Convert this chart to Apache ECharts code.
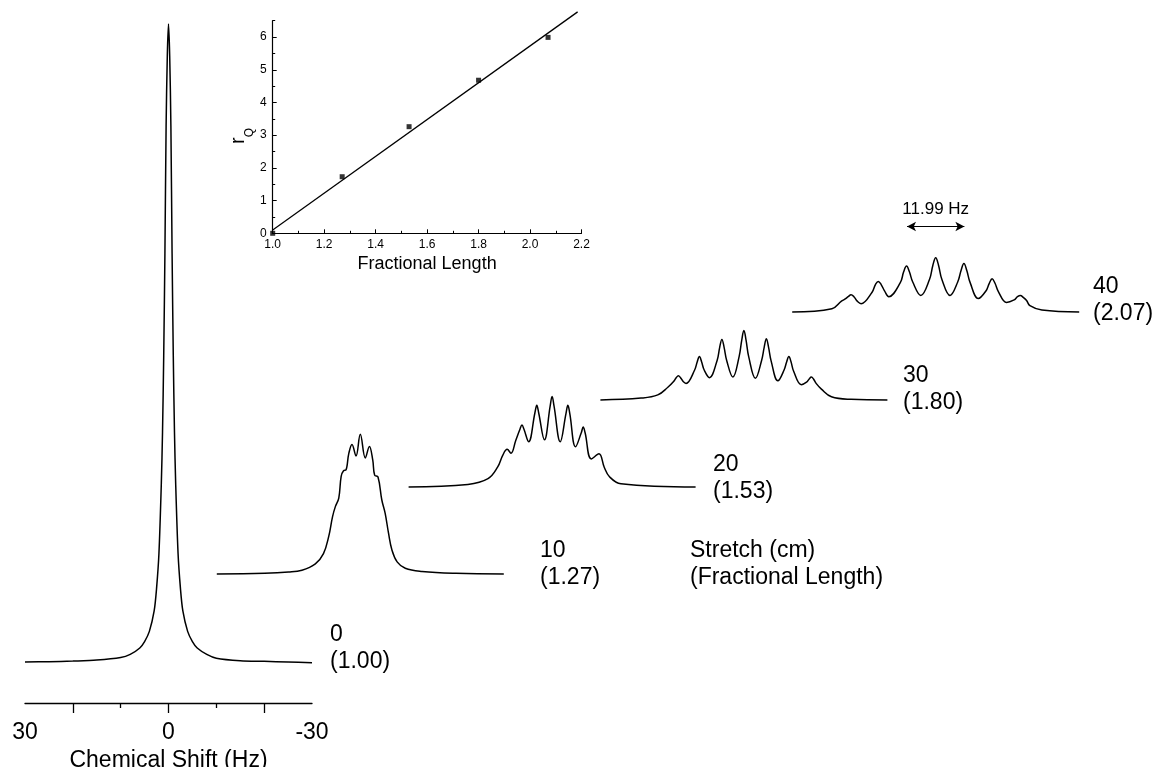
<!DOCTYPE html>
<html lang="en" style="height: 100%">
<head>
  <meta charset="utf-8">
</head>
<body style="height: 100%; margin: 0">
  <div id="container" style="height: 100%"></div>

  <script type="text/javascript" src="https://cdn.jsdelivr.net/npm/echarts@6/dist/echarts.min.js"></script>

  <script type="text/javascript">
    // spectra, each point = [chemical shift (Hz), intensity (% of the 0 cm peak)]
    var spec0 = [[30, 0], [25, 0.05], [20, 0.15], [15, 0.3], [10, 0.7], [8, 1.2], [6, 2.2], [5, 3.2], [4, 4.8],
      [3, 8], [2.5, 11.5], [2, 17], [1.5, 28], [1.25, 36], [1, 48], [0.75, 64], [0.5, 84], [0.25, 95], [0, 100],
      [-0.25, 95], [-0.5, 84], [-0.75, 64], [-1, 48], [-1.25, 36], [-1.5, 28], [-2, 17], [-2.5, 11.5], [-3, 8],
      [-4, 4.8], [-5, 3.2], [-6, 2.2], [-8, 1.2], [-10, 0.6], [-15, 0.2], [-20, 0.1], [-25, 0], [-30, -0.1]];
    var spec10 = [[30, 0], [20, 0.1], [15, 0.3], [12.2, 0.6], [9.4, 1.6], [7.7, 3.2], [6.6, 5.9], [5.8, 9.0],
      [5.2, 10.6], [4.5, 11.9], [4.0, 15.3], [3.5, 16.2], [3.0, 16.3], [2.4, 18.9], [1.74, 20.3], [0.9, 18.5],
      [0, 21.9], [-1.05, 18.2], [-1.9, 20.0], [-2.6, 17.9], [-3.0, 15.5], [-3.7, 15.2], [-4.5, 11.6], [-5.2, 9.5],
      [-5.9, 6.4], [-6.6, 3.8], [-7.7, 1.9], [-9.4, 0.9], [-12.9, 0.4], [-20, 0.1], [-30, 0]];
    var spec20 = [[30, 0], [17.6, 0.4], [13.4, 1.3], [11.4, 3.1], [10.3, 5.0], [9.4, 5.9], [8.6, 5.3], [7.6, 7.3],
      [6.7, 9.1], [6.3, 9.7], [5.9, 9.1], [4.9, 7.1], [3.6, 11.6], [3.2, 12.8], [2.8, 11.6], [1.6, 7.4],
      [0.4, 12.7], [0, 14.2], [-0.4, 12.7], [-1.7, 7.1], [-2.9, 11.5], [-3.3, 12.8], [-3.7, 11.5], [-4.9, 6.3],
      [-6.1, 8.5], [-6.5, 9.4], [-6.9, 8.5], [-8.2, 4.4], [-9.8, 5.2], [-10.9, 3.1], [-12.0, 1.6], [-14.4, 0.5],
      [-30, 0]];
    var spec30 = [[30, 0], [21.5, 0.3], [18.0, 0.8], [15.9, 2.0], [14.7, 2.9], [14.15, 3.5], [13.7, 3.8],
      [13.25, 3.5], [12.7, 2.9], [12.1, 2.6], [10.3, 4.7], [9.75, 6.0], [9.3, 6.8], [8.85, 6.0], [8.3, 4.7],
      [7.2, 3.5], [5.6, 6.2], [5.05, 8.3], [4.6, 9.5], [4.15, 8.3], [3.6, 6.2], [2.3, 3.6], [1.0, 6.8],
      [0.45, 9.4], [0, 10.9], [-0.45, 9.4], [-1.0, 6.8], [-2.4, 3.4], [-3.7, 6.2], [-4.25, 8.3], [-4.7, 9.6],
      [-5.15, 8.3], [-5.7, 6.1], [-7.1, 3.0], [-8.4, 4.7], [-8.95, 6.0], [-9.4, 6.8], [-9.85, 6.0], [-10.4, 4.5],
      [-12.0, 2.4], [-13.1, 2.8], [-13.65, 3.3], [-14.1, 3.6], [-14.55, 3.3], [-15.1, 2.6], [-16.2, 1.7],
      [-18.3, 0.5], [-22.4, 0.1], [-30, 0]];
    var spec40 = [[30, 0], [21.7, 0.5], [19.7, 1.7], [19.0, 2.0], [18.3, 2.4], [17.7, 2.7], [17.1, 2.4],
      [16.4, 1.7], [15.6, 1.3], [13.3, 3.1], [12.6, 4.3], [12.0, 4.8], [11.4, 4.3], [10.7, 3.3], [9.8, 2.4],
      [7.4, 4.6], [6.7, 6.3], [6.1, 7.2], [5.5, 6.3], [4.8, 4.7], [3.1, 2.6], [1.3, 5.1], [0.6, 7.3], [0, 8.5],
      [-0.6, 7.3], [-1.3, 5.1], [-3.0, 2.6], [-4.6, 4.7], [-5.3, 6.5], [-5.9, 7.6], [-6.5, 6.5], [-7.2, 4.6],
      [-8.9, 2.1], [-10.5, 3.3], [-11.2, 4.5], [-11.8, 5.2], [-12.4, 4.5], [-13.1, 3.2], [-14.8, 1.5],
      [-16.4, 1.9], [-17.1, 2.4], [-17.7, 2.6], [-18.3, 2.3], [-19.0, 1.8], [-19.7, 1.0], [-22.2, 0.3], [-30, 0]];

    var stretchCm = ['0', '10', '20', '30', '40'];
    var fracLength = ['1.00', '1.27', '1.53', '1.80', '2.07'];
    var shiftLabels = [30, 0, -30];
    var shiftMajor = [20, 0, -20];
    var shiftMinor = [10, -10];
    var splitting = 11.99;   // Hz, marked on the 40 cm spectrum
    var arrowLevel = 13.4;   // intensity where the arrow sits

    // inset: quadrupolar splitting vs fractional length
    var insetX = [1.00, 1.27, 1.53, 1.80, 2.07];
    var insetY = [0, 1.73, 3.26, 4.68, 5.99];
    var fitX = [0.89, 2.185];
    var fitY = [-0.52, 6.77];
    var rqTicks = [0, 1, 2, 3, 4, 5, 6];
    var rqMinor = [0.5, 1.5, 2.5, 3.5, 4.5, 5.5, 6.5];

    var FONT = '"Liberation Sans", Arial, Helvetica, sans-serif';
    var PX = 6.38;   // pixels per intensity unit
    var spectra = [spec0, spec10, spec20, spec30, spec40];
    var baselines = [662, 574, 487, 400, 312];
    var gridH = [640, 200, 200, 200, 200];
    var labelPos = [[330, 621], [540, 537], [713, 451], [903, 362], [1093, 273]];

    var dom = document.getElementById('container');
    var myChart = echarts.init(dom, null, { renderer: 'canvas' });

    var grids = [], xAxes = [], yAxes = [], series = [], graphics = [];

    spectra.forEach(function (s, i) {
      grids.push({ left: 25 + 191.8 * i, top: baselines[i] - gridH[i], width: 287, height: gridH[i], outerBoundsMode: 'none' });
      xAxes.push({ type: 'value', gridIndex: i, min: -30, max: 30, inverse: true, show: false });
      yAxes.push({ type: 'value', gridIndex: i, min: 0, max: gridH[i] / PX, show: false });
      series.push({
        type: 'line', xAxisIndex: i, yAxisIndex: i, data: s,
        showSymbol: false, smooth: i === 0 ? 0.3 : 0.4, clip: false, silent: true,
        lineStyle: { color: '#000', width: 1.5 }
      });
      graphics.push({
        type: 'text', left: labelPos[i][0], top: labelPos[i][1],
        style: { text: stretchCm[i] + '\n(' + fracLength[i] + ')', fill: '#000', fontSize: 23, fontFamily: FONT, lineHeight: 27 }
      });
    });

    // visible chemical shift axis under the 0 cm spectrum
    Object.assign(xAxes[0], {
      show: true, position: 'bottom', offset: 41,
      axisLine: { show: true, onZero: false, lineStyle: { color: '#000', width: 1.3 } },
      axisTick: { show: true, customValues: shiftMajor, length: 10, lineStyle: { color: '#000', width: 1.3 } },
      axisLabel: { customValues: shiftLabels, margin: 18, fontSize: 23, color: '#000', fontFamily: FONT },
      splitLine: { show: false },
      name: 'Chemical Shift (Hz)', nameLocation: 'middle', nameGap: 40,
      nameTextStyle: { fontSize: 23, color: '#000', fontFamily: FONT }
    });
    xAxes.push({
      type: 'value', gridIndex: 0, position: 'bottom', offset: 41, min: -30, max: 30, inverse: true,
      axisLine: { show: false, onZero: false }, axisLabel: { show: false }, splitLine: { show: false },
      axisTick: { show: true, customValues: shiftMinor, length: 5, lineStyle: { color: '#000', width: 1.3 } }
    });

    series[4].markLine = {
      silent: true, symbol: ['arrow', 'arrow'], symbolSize: [7, 9],
      lineStyle: { color: '#000', width: 1, type: 'solid' },
      label: { show: true, position: 'insideMiddleTop', distance: 9, formatter: splitting + ' Hz',
        color: '#000', fontSize: 17, fontFamily: FONT },
      data: [[{ coord: [splitting / 2, arrowLevel] }, { coord: [-splitting / 2, arrowLevel] }]]
    };

    // inset
    grids.push({ left: 272.7, top: 20.7, width: 308.8, height: 212.6, outerBoundsMode: 'none' });
    xAxes.push({
      type: 'value', gridIndex: 5, position: 'bottom', min: 1.0, max: 2.2, interval: 0.2,
      axisLine: { show: true, onZero: false, lineStyle: { color: '#000', width: 1.2 } },
      axisTick: { show: true, inside: true, length: 4, lineStyle: { color: '#000' } },
      minorTick: { show: true, splitNumber: 2, length: 2.5, lineStyle: { color: '#000' } },
      axisLabel: { margin: 5, fontSize: 12, color: '#000', fontFamily: FONT,
        formatter: function (v) { return v.toFixed(1); } },
      splitLine: { show: false },
      name: 'Fractional Length', nameLocation: 'middle', nameGap: 22,
      nameTextStyle: { fontSize: 18, color: '#000', fontFamily: FONT }
    });
    yAxes.push({
      type: 'value', gridIndex: 5, position: 'left', min: 0, max: 6.5,
      axisLine: { show: true, onZero: false, lineStyle: { color: '#000', width: 1.2 } },
      axisTick: { show: true, inside: true, length: 4, customValues: rqTicks, lineStyle: { color: '#000' } },
      axisLabel: { customValues: rqTicks, margin: 6, fontSize: 12, color: '#000', fontFamily: FONT },
      splitLine: { show: false },
      name: '{r|r}{q|Q}', nameLocation: 'middle', nameGap: 13, nameRotate: 90,
      nameTextStyle: {
        color: '#000', fontFamily: FONT, padding: [0, 18, 0, 0],
        rich: {
          r: { fontSize: 20, fontFamily: FONT, color: '#000' },
          q: { fontSize: 12, fontFamily: FONT, color: '#000', verticalAlign: 'bottom', padding: [0, 0, -8, 0] }
        }
      }
    });
    yAxes.push({
      type: 'value', gridIndex: 5, position: 'left', min: 0, max: 6.5,
      axisLine: { show: false, onZero: false }, axisLabel: { show: false }, splitLine: { show: false },
      axisTick: { show: true, inside: true, length: 2.5, customValues: rqMinor, lineStyle: { color: '#000' } }
    });

    series.push({
      type: 'line', xAxisIndex: 6, yAxisIndex: 5, clip: false, showSymbol: false, silent: true,
      data: fitX.map(function (x, i) { return [x, fitY[i]]; }),
      lineStyle: { color: '#000', width: 1.3 }
    });
    series.push({
      type: 'scatter', xAxisIndex: 6, yAxisIndex: 5, clip: false, silent: true,
      symbol: 'rect', symbolSize: 5, itemStyle: { color: '#000' },
      data: insetX.map(function (x, i) { return [x, insetY[i]]; })
    });

    graphics.push({
      type: 'text', left: 690, top: 537,
      style: { text: 'Stretch (cm)\n(Fractional Length)', fill: '#000', fontSize: 23, fontFamily: FONT, lineHeight: 27 }
    });

    var option = {
      animation: false,
      backgroundColor: '#fff',
      grid: grids,
      xAxis: xAxes,
      yAxis: yAxes,
      series: series,
      graphic: graphics
    };

    myChart.setOption(option);
    window.addEventListener('resize', myChart.resize);
  </script>
</body>
</html>
